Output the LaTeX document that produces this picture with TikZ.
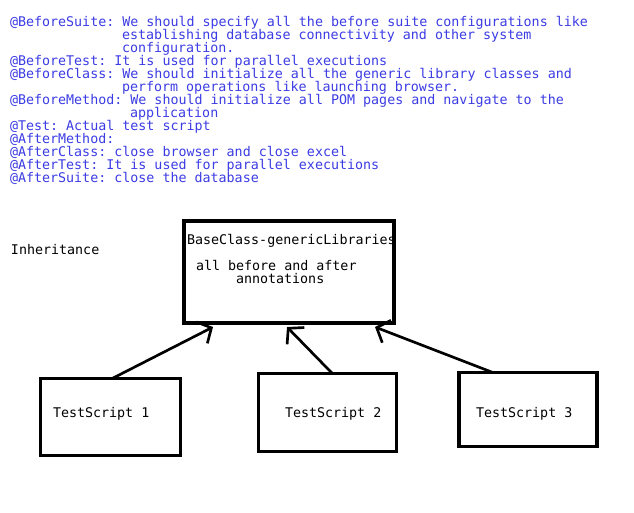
\documentclass[tikz,border=0pt]{standalone}
\usepackage{fontspec}
\setmonofont{DejaVu Sans Mono}
\usetikzlibrary{arrows.meta}
\definecolor{txtblue}{RGB}{60,60,228}
\begin{document}
\begin{tikzpicture}[x=0.75pt,y=-0.75pt,
  every node/.style={inner sep=0pt,outer sep=0pt,font=\ttfamily\fontsize{10pt}{11pt}\selectfont},
  note/.style={anchor=base west,text=txtblue},
  plain/.style={anchor=base west,text=black},
  boxline/.style={draw=black,line width=2.4pt},
  inherit/.style={draw=black,line width=2pt,-{Straight Barb[length=8pt,width=18pt,line width=2pt]}}]
\useasboundingbox (0,0) rectangle (634,512);
\fill[white] (0,0) rectangle (634,512);
% annotation notes
\node[note] (n1) at (10,26) {@BeforeSuite: We should specify all the before suite configurations like};
\node[note] (n2) at (122,39) {establishing database connectivity and other system};
\node[note] (n3) at (122,52) {configuration.};
\node[note] (n4) at (10,65) {@BeforeTest: It is used for parallel executions};
\node[note] (n5) at (10,78) {@BeforeClass: We should initialize all the generic library classes and};
\node[note] (n6) at (122,91) {perform operations like launching browser.};
\node[note] (n7) at (10,104) {@BeforeMethod: We should initialize all POM pages and navigate to the};
\node[note] (n8) at (130,117) {application};
\node[note] (n9) at (10,130) {@Test: Actual test script};
\node[note] (n10) at (10,143) {@AfterMethod:};
\node[note] (n11) at (10,156) {@AfterClass: close browser and close excel};
\node[note] (n12) at (10,169) {@AfterTest: It is used for parallel executions};
\node[note] (n13) at (10,182) {@AfterSuite: close the database};
% diagram
\node[plain] (inh) at (11,254) {Inheritance};
\node[boxline,rectangle,minimum width=157.5pt,minimum height=76.5pt] (base) at (289,272) {};
\node[plain] (bt1) at (187,244) {BaseClass-genericLibraries};
\node[plain] (bt2) at (196,270) {all before and after};
\node[plain] (bt3) at (236,283) {annotations};
\node[boxline,rectangle,minimum width=105pt,minimum height=58pt] (ts1) at (110.5,417) {};
\node[boxline,rectangle,minimum width=104pt,minimum height=59pt] (ts2) at (327.5,412.5) {};
\node[boxline,rectangle,minimum width=103.5pt,minimum height=56pt] (ts3) at (528,409.5) {};
\node[plain] (tt1) at (53,417) {TestScript 1};
\node[plain] (tt2) at (285,417) {TestScript 2};
\node[plain] (tt3) at (476,417) {TestScript 3};
% connector end points on the base box
\coordinate (e1) at ([xshift=-57pt,yshift=-3pt]base.south);
\coordinate (e2) at ([xshift=-1.5pt,yshift=-3pt]base.south);
\coordinate (e3) at ([xshift=64.5pt,yshift=-3pt]base.south);
\draw[inherit] ([xshift=1.5pt]ts1.north) -- (e1);
\draw[inherit] ([xshift=3.4pt]ts2.north) -- (e2);
\draw[inherit] ([xshift=-27pt]ts3.north) -- (e3);
\end{tikzpicture}
\end{document}
